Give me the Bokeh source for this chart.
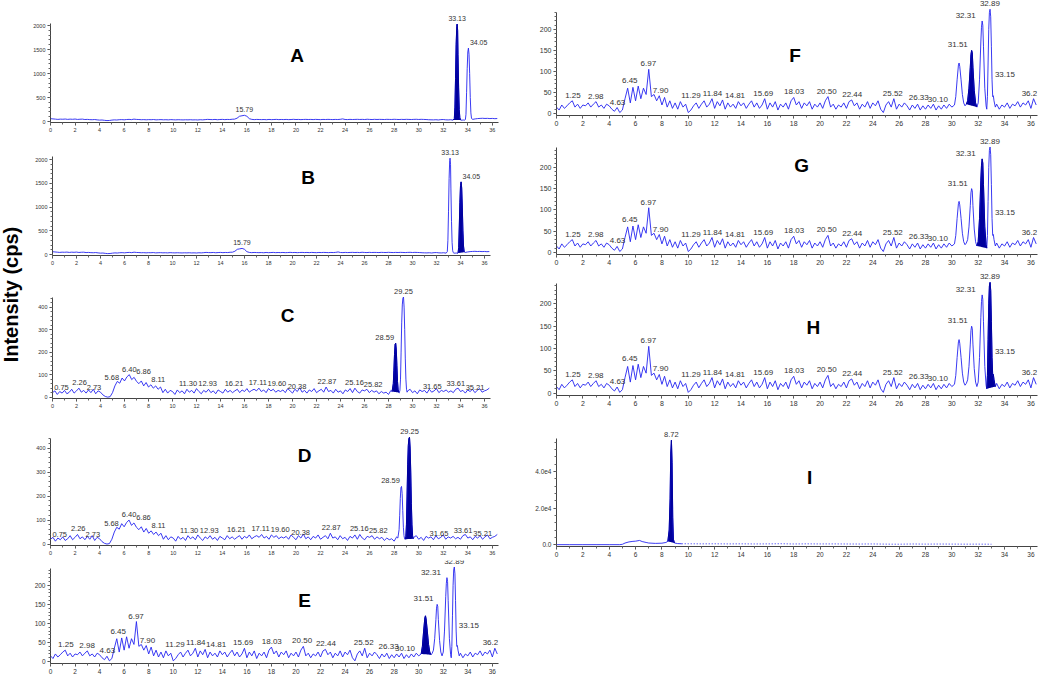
import numpy as np
from bokeh.plotting import figure
from bokeh.layouts import column, row
from bokeh.models import (Range1d, SingleIntervalTicker, Label, LabelSet,
                          ColumnDataSource, CustomJSTickFormatter)
from bokeh.embed import file_html
from bokeh.resources import INLINE
from bokeh.core.properties import value

# ---------------- data ----------------
sample_step = 0.2  # minutes between baseline samples

# Panels A / B (same chromatogram)
ab_baseline = [60, 55, 50, 45, 50, 48, 52, 45, 50, 47, 52, 44, 48, 50, 42, 45,
               40, 38, 42, 35, 30, 32, 25,
               20, 22, 30,
               35, 32, 38, 40, 36, 42, 45, 40, 50, 44,
               42, 38, 40, 36, 40, 38, 42, 35, 38, 40,
               36, 38, 35, 40, 37, 35, 38, 36, 34, 37,
               35, 38, 34, 36, 33, 38, 35, 40, 45, 42,
               40, 44, 38, 42, 45, 40, 44, 42, 48, 50,
               70, 110, 120, 130, 110, 60, 45, 40, 44, 42,
               40, 42, 38, 44, 40, 42, 45, 40, 43, 41,
               44, 40, 42, 46, 42, 44, 40, 43, 45, 42,
               44, 41, 45, 42, 40, 44, 42, 45, 43, 41,
               44, 42, 46, 55, 43, 41, 45, 42, 44, 46,
               43, 45, 42, 48, 44, 42, 46, 43, 45, 44,
               42, 46, 44, 43, 47, 44, 42, 45, 43, 46,
               44, 42, 45, 47, 43, 46, 44, 42, 38, 36,
               35, 38, 33, 40, 42, 36, 34, 38, 35, 30,
               30, 30, 30, 30, 30, 30, 45, 55, 62, 65,
               68, 64, 66, 62, 65, 60, 63]
ab_peak_x = [32.8, 32.9, 32.95, 33.0, 33.05, 33.1, 33.13, 33.17, 33.2, 33.25,
             33.3, 33.35, 33.4, 33.45, 33.55, 33.65, 33.75, 33.8, 33.85, 33.9,
             33.95, 34.0, 34.05, 34.1, 34.15, 34.2, 34.25, 34.3, 34.35]
ab_peak_y = [30, 60, 300, 900, 1600, 1980, 2030, 1900, 1400, 700,
             250, 80, 40, 30, 30, 32, 30, 40, 150, 600,
             1100, 1450, 1530, 1400, 1000, 500, 180, 70, 50]
ab_labels = ["15.79", "33.13", "34.05"]
a_filled = (32.8, 33.45)
b_filled = (33.75, 34.35)

# Panels C / D
cd_baseline = [20, 28, 12, 25, 18, 30, 15, 22, 35, 18, 28, 40, 22, 30, 18, 32,
               20, 35, 15, 28, 22, 10, 3,
               0, 2, 20,
               50, 70, 62, 85, 72, 90, 100, 78, 88, 70,
               60, 72, 50, 65, 45, 55, 40, 50, 35, 45,
               20, 35, 18, 30, 25, 12, 32, 20, 28, 15,
               35, 22, 30, 18, 38, 25, 15, 30, 22, 35,
               20, 28, 15, 32, 25, 18, 35, 22, 30, 20,
               28, 35, 20, 32, 25, 38, 22, 30, 35, 28,
               40, 25, 32, 20, 38, 28, 35, 22, 30, 25,
               32, 20, 38, 28, 18, 35, 25, 42, 22, 30,
               18, 32, 25, 38, 20, 28, 35, 22, 45, 25,
               30, 18, 35, 22, 28, 15, 32, 25, 38, 20,
               40, 25, 18, 32, 28, 35, 20, 30, 22, 28,
               15, 25, 18, 22, 12, 30, 28, 20, 25, 20,
               30, 30, 30, 35, 20, 28, 15, 32, 25, 30,
               18, 35, 22, 28, 38, 20, 30, 25, 32, 22,
               28, 20, 35, 40, 25, 30, 18, 32, 25, 35,
               20, 30, 38, 22, 28, 32, 40]
cd_peak_x = [28.3, 28.4, 28.45, 28.5, 28.55, 28.6, 28.65, 28.7, 28.75, 28.8,
             28.85, 28.9, 28.95, 29.0, 29.05, 29.1, 29.15, 29.2, 29.25, 29.3,
             29.35, 29.4, 29.45, 29.5, 29.55, 29.6]
cd_peak_y = [25, 60, 120, 190, 235, 240, 210, 140, 70, 35,
             22, 20, 30, 80, 200, 330, 410, 440, 445, 400,
             300, 170, 80, 35, 22, 28]
cd_labels = ["0.75", "2.26", "2.73", "5.68", "6.40", "6.86", "8.11", "11.30",
             "12.93", "16.21", "17.11", "19.60", "20.38", "22.87", "25.16",
             "25.82", "28.59", "29.25", "31.65", "33.61", "35.21"]
c_filled = (28.3, 28.9)
d_filled = (28.9, 29.55)

# Panels E / F / G / H
efgh_baseline = [15, 8, 20, 12, 18, 25, 30, 15, 22, 12, 20, 18, 25, 15, 22, 28,
                 15, 20, 12, 22, 18, 10, 5,
                 14, 2, 8,
                 35, 60, 25, 62, 30, 65, 35, 60, 45, 105,
                 40, 45, 30, 42, 20, 38, 15, 30, 12, 25,
                 10, 28, 15, 22, 2, 8, 18, 25, 12, 22,
                 30, 15, 22, 35, 12, 28, 18, 32, 10, 25,
                 15, 22, 12, 28, 18, 25, 12, 22, 30, 15,
                 25, 12, 20, 35, 10, 25, 15, 28, 8, 22,
                 15, 25, 10, 30, 38, 20, 28, 12, 25, 18,
                 28, 10, 22, 15, 25, 12, 30, 40, 15, 22,
                 10, 20, 15, 25, 12, 28, 32, 18, 25, 10,
                 22, 15, 28, 12, 25, 18, 30, 10, 2, 20,
                 28, 15, 35, 10, 22, 15, 25, 18, 8, 20,
                 12, 22, 8, 18, 10, 20, 12, 22, 8, 18,
                 10, 20, 12, 22, 15, 20, 20, 20, 20, 20,
                 20, 20, 20, 20, 20, 20, 20, 20, 20, 20,
                 20, 22, 10, 20, 15, 25, 12, 22, 18, 28,
                 15, 25, 20, 30, 12, 35, 20]
efgh_peak_x = [30.2, 30.3, 30.4, 30.5, 30.55, 30.6, 30.7, 30.8, 30.9, 31.0,
               31.1, 31.2, 31.3, 31.4, 31.45, 31.5, 31.55, 31.6, 31.7, 31.8,
               31.9, 32.0, 32.1, 32.2, 32.25, 32.3, 32.35, 32.4, 32.5, 32.6,
               32.65, 32.7, 32.75, 32.8, 32.85, 32.9, 32.95, 33.0, 33.05, 33.1,
               33.15, 33.2, 33.3]
efgh_peak_y = [20, 40, 80, 115, 120, 112, 80, 45, 25, 18,
               22, 30, 60, 110, 140, 150, 145, 110, 55, 25,
               15, 25, 80, 170, 205, 220, 210, 160, 60, 18,
               10, 40, 120, 200, 240, 248, 230, 160, 80, 40,
               42, 30, 15]
efgh_labels = ["1.25", "2.98", "4.63", "6.45", "6.97", "7.90", "11.29", "11.84",
               "14.81", "15.69", "18.03", "20.50", "22.44", "25.52", "26.33",
               "30.10", "31.51", "32.31", "32.89", "33.15", "36.2"]
e_filled = (30.2, 31.0)
f_filled = (31.1, 31.9)
g_filled = (31.9, 32.65)
h_filled = (32.65, 33.3)

# Panel I
i_x = [0, 1, 2, 3, 4, 4.8, 5.0, 5.2, 5.5, 5.8,
       6.0, 6.3, 6.5, 6.8, 7.0, 7.5, 8.0, 8.3, 8.45, 8.55,
       8.62, 8.67, 8.72, 8.77, 8.82, 8.87, 8.95, 9.2, 9.5]
i_y = [0, 0, 0, 0, 0, 0, 200, 900, 1500, 1800,
       1900, 2300, 1700, 1200, 900, 700, 800, 1200, 1800, 8000,
       25000, 50000, 57000, 45000, 15000, 3000, 900, 600, 500]
i_tail_x = list(range(10, 34))
i_tail_y = [500, 450, 480, 420, 460, 400, 430, 520, 380, 450, 400, 420,
            380, 350, 400, 300, 250, 380, 300, 350, 320, 280, 300, 250]
i_labels = ["8.72"]
i_filled = (8.45, 8.95)

panel_titles = ["A", "B", "C", "D", "E", "F", "G", "H", "I"]
y_title = "Intensity (cps)"

# ---------------- styling ----------------
FONT = "Liberation Sans"
TRACE = "#2424f0"
FILL = "#00009c"
LABEL_SIDE = {"5.68": "left", "28.59": "left", "6.45": "left", "11.29": "left",
              "14.81": "left", "30.10": "left", "31.51": "left", "32.31": "left",
              "16.21": "left", "19.60": "left", "36.2": "left",
              "34.05": "right", "6.86": "right", "8.11": "right", "2.73": "right",
              "25.82": "right", "26.33": "right", "33.15": "right"}
LABEL_SHIFT = {"32.31": -0.5, "11.29": -0.35, "14.81": -0.5, "30.10": -0.4,
               "6.45": -0.3, "31.51": -0.3, "26.33": 0.4, "36.2": 0.28,
               "16.21": -0.3}
LABEL_WIN = {"6.45": 0.3}


def build(base, px, py):
    bx = np.round(np.arange(len(base)) * sample_step, 3)
    by = np.array(base, dtype=float)
    lo, hi = min(px), max(px)
    keep = (bx < lo - 1e-9) | (bx > hi + 1e-9)
    x = np.concatenate([bx[keep], np.array(px, float)])
    y = np.concatenate([by[keep], np.array(py, float)])
    o = np.argsort(x, kind="stable")
    return x[o], y[o]


def panel(x, y, labels, filled, title, cfg, extra=None):
    p = figure(width=cfg["w"], height=cfg["h"],
               x_range=Range1d(0, 36.5), y_range=Range1d(*cfg["yr"]),
               output_backend="svg", toolbar_location=None,
               min_border_left=cfg["bl"], min_border_right=cfg["br"],
               min_border_top=cfg["bt"], min_border_bottom=cfg["bb"])
    p.grid.visible = False
    p.outline_line_color = None
    p.xaxis.ticker = SingleIntervalTicker(interval=2, num_minor_ticks=2)
    p.yaxis.ticker = SingleIntervalTicker(interval=cfg["ystep"], num_minor_ticks=5)
    p.yaxis.bounds = (cfg["yr"][0], cfg["ytop"])
    if cfg.get("sci"):
        p.yaxis.formatter = CustomJSTickFormatter(
            code="return tick == 0 ? '0.0' : (tick/1e4).toFixed(1) + 'e4';")
    for ax in p.axis:
        ax.axis_line_color = "#444444"
        ax.major_tick_line_color = "#444444"
        ax.minor_tick_line_color = "#666666"
        ax.major_tick_out = 3
        ax.major_tick_in = 0
        ax.minor_tick_out = 2
        ax.minor_tick_in = 0
        ax.major_label_standoff = 2
        ax.major_label_text_font = FONT
        ax.major_label_text_font_size = cfg["tfs"]
        ax.major_label_text_color = "#333333"

    lo, hi = filled
    m = (x >= lo - 1e-9) & (x <= hi + 1e-9)
    fx, fy = x[m], y[m]
    base = np.interp(fx, [fx[0], fx[-1]], [fy[0], fy[-1]])
    p.varea(x=fx, y1=base, y2=fy, fill_color=FILL)
    p.line(x, y, line_color=TRACE, line_width=0.9)
    p.line(fx, fy, line_color=FILL, line_width=1)
    if extra is not None:
        ex, ey = extra
        p.line(ex, ey, line_color=TRACE, line_width=1, line_dash="1 2")

    groups = {"left": ([], [], []), "center": ([], [], []), "right": ([], [], [])}
    for t in labels:
        rt = float(t)
        w = np.abs(x - rt) <= LABEL_WIN.get(t, 0.12)
        ly = y[w].max() if w.any() else float(np.interp(rt, x, y))
        side = LABEL_SIDE.get(t, "center")
        if side == "left":
            lx = rt + LABEL_SHIFT.get(t, -0.12)
        elif side == "right":
            lx = rt + LABEL_SHIFT.get(t, 0.12)
        else:
            lx = rt
        g = groups[side]
        g[0].append(lx); g[1].append(ly); g[2].append(t)
    for side, align in (("left", "right"), ("center", "center"), ("right", "left")):
        g = groups[side]
        if not g[0]:
            continue
        src = ColumnDataSource(dict(x=g[0], y=g[1], t=g[2]))
        p.add_layout(LabelSet(x="x", y="y", text="t", source=src,
                              text_align=align, text_baseline="bottom",
                              y_offset=3, text_font=value(FONT),
                              text_font_size=cfg["lfs"], text_color="#333333"))
    tx, ty = cfg["title_xy"]
    p.add_layout(Label(x=tx, y=ty, text=title, text_font=FONT,
                       text_font_style="bold", text_font_size="19px",
                       text_color="black", text_align="center",
                       text_baseline="middle"))
    return p


ab_x, ab_y = build(ab_baseline, ab_peak_x, ab_peak_y)
cd_x, cd_y = build(cd_baseline, cd_peak_x, cd_peak_y)
ef_x, ef_y = build(efgh_baseline, efgh_peak_x, efgh_peak_y)
ix, iy = np.array(i_x, float), np.array(i_y, float)
tail_x = [i_x[-1]] + i_tail_x
tail_y = [i_y[-1]] + i_tail_y

cfgs = {
    "A": dict(w=525, h=137, bl=50, br=27, bt=8, bb=15, yr=(-20, 2355), ytop=2050,
              ystep=500, tfs="5.5px", lfs="7px", title_xy=(20.1, 1376)),
    "B": dict(w=502, h=133, bl=20, br=35, bt=6, bb=15, yr=(-20, 2338), ytop=2060,
              ystep=500, tfs="5.5px", lfs="7px", title_xy=(21.3, 1622)),
    "C": dict(w=502, h=143, bl=29, br=4, bt=14, bb=15, yr=(-6, 500.7), ytop=443,
              ystep=100, tfs="5.5px", lfs="7.5px", title_xy=(19.6, 363)),
    "D": dict(w=525, h=147, bl=40, br=14, bt=13, bb=15, yr=(-6, 489.8), ytop=440,
              ystep=100, tfs="5.5px", lfs="7.5px", title_xy=(20.7, 369)),
    "E": dict(w=525, h=116, bl=42, br=16, bt=0, bb=13, yr=(-5, 265), ytop=243,
              ystep=50, tfs="6.5px", lfs="8px", title_xy=(20.7, 160)),
    "F": dict(w=521, h=130, bl=31, br=9, bt=0, bb=15, yr=(-5, 268.8), ytop=240,
              ystep=50, tfs="7px", lfs="8px", title_xy=(18.1, 138)),
    "G": dict(w=521, h=139, bl=24, br=1, bt=4, bb=15, yr=(-5, 277.4), ytop=247,
              ystep=50, tfs="7px", lfs="8px", title_xy=(18.6, 204)),
    "H": dict(w=521, h=141, bl=21, br=7, bt=1, bb=15, yr=(-5, 274.6), ytop=245,
              ystep=50, tfs="7px", lfs="8px", title_xy=(19.5, 147)),
    "I": dict(w=521, h=151, bl=31, br=8, bt=16, bb=15, yr=(-1000, 64484), ytop=57900,
              ystep=20000, tfs="6.5px", lfs="7.5px", title_xy=(19.2, 36654), sci=True),
}

pA = panel(ab_x, ab_y, ab_labels, a_filled, panel_titles[0], cfgs["A"])
pB = panel(ab_x, ab_y, ab_labels, b_filled, panel_titles[1], cfgs["B"])
pC = panel(cd_x, cd_y, cd_labels, c_filled, panel_titles[2], cfgs["C"])
pD = panel(cd_x, cd_y, cd_labels, d_filled, panel_titles[3], cfgs["D"])
pE = panel(ef_x, ef_y, efgh_labels, e_filled, panel_titles[4], cfgs["E"])
pF = panel(ef_x, ef_y, efgh_labels, f_filled, panel_titles[5], cfgs["F"])
pG = panel(ef_x, ef_y, efgh_labels, g_filled, panel_titles[6], cfgs["G"])
pH = panel(ef_x, ef_y, efgh_labels, h_filled, panel_titles[7], cfgs["H"])
pI = panel(ix, iy, i_labels, i_filled, panel_titles[8], cfgs["I"],
           extra=(tail_x, tail_y))

strip = figure(width=23, height=276, x_range=Range1d(0, 1), y_range=Range1d(0, 1),
               x_axis_type=None, y_axis_type=None, output_backend="svg",
               toolbar_location=None, min_border_left=0, min_border_right=0,
               min_border_top=0, min_border_bottom=0)
strip.grid.visible = False
strip.outline_line_color = None
strip.text(x=[0.478], y=[0.431], text=[y_title], angle=np.pi / 2,
           text_align="center", text_baseline="middle",
           text_font=value(FONT), text_font_style="bold",
           text_font_size="20px", text_color="black")

left = column(pA, row(strip, column(pB, pC, spacing=0), spacing=0), pD, pE, spacing=0)
right = column(pF, pG, pH, pI, spacing=0)
layout = row(left, right, spacing=0)

open("out.html", "w").write(file_html(layout, INLINE))
